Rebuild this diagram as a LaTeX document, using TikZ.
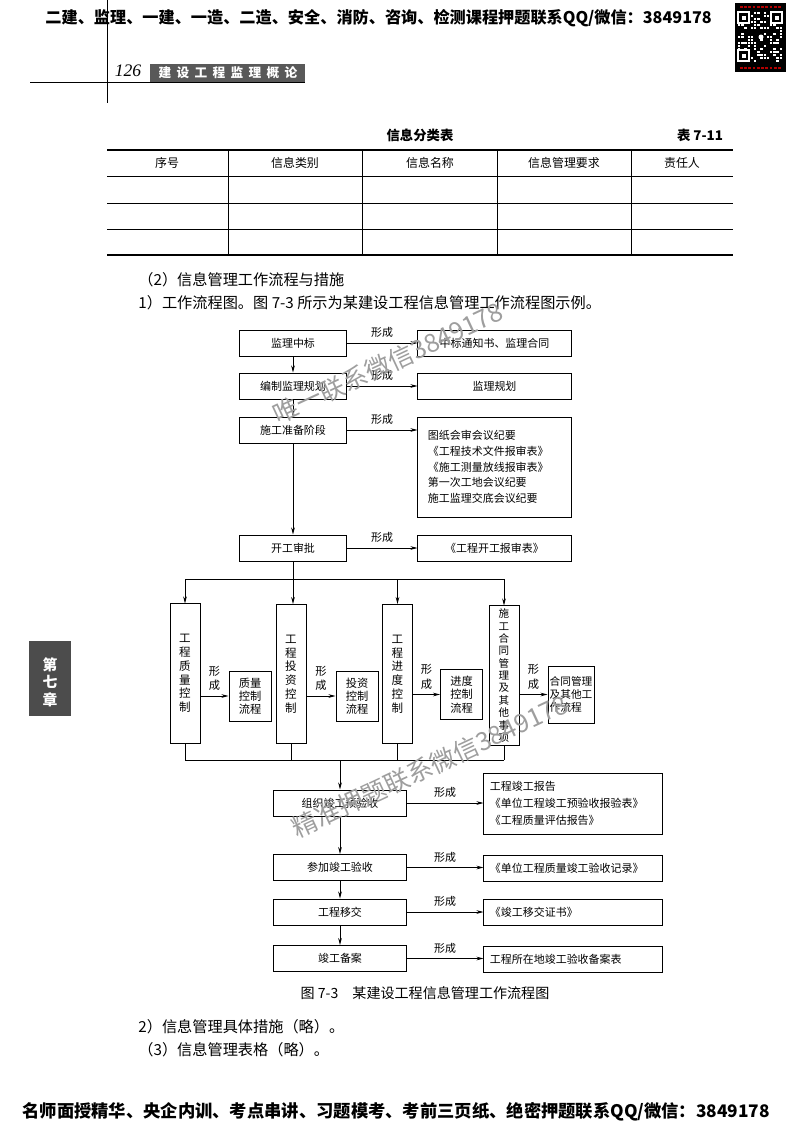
\documentclass[tikz,border=0pt]{standalone}
\usepackage{fontspec}
\setmainfont{Noto Sans CJK SC}
\newfontfamily\numfont{Liberation Serif}
\usetikzlibrary{arrows.meta}
\newcommand{\fsz}[2]{\fontsize{#1}{#2}\selectfont}

\begin{document}
\begin{tikzpicture}[x=0.025cm,y=-0.025cm,line width=0.6pt,
  every node/.style={font=\fsz{7.8pt}{10pt}},
  stepbox/.style={draw,line width=0.7pt,minimum height=0.65cm,inner sep=1pt},
  lbox/.style={stepbox,minimum width=2.65cm},
  rbox/.style={stepbox,minimum width=3.825cm},
  tall/.style={draw,line width=0.7pt,minimum width=0.75cm,minimum height=3.475cm,align=center,inner sep=0pt,font=\fsz{8.2pt}{9.8pt}},
  flow/.style={draw,line width=0.7pt,minimum width=1.05cm,minimum height=1.25cm,align=center,inner sep=1pt,font=\fsz{8pt}{9.4pt}},
  blbox/.style={stepbox,minimum width=3.3cm},
  brbox/.style={stepbox,text width=4.15cm,inner xsep=0.15cm,align=left},
  arr/.style={-{Stealth[length=5pt,width=2.6pt]}},
  body/.style={anchor=west,inner sep=0pt,font=\fsz{10.8pt}{13pt}},
  wm/.style={text=black!38,font=\fsz{18pt}{18pt},rotate=25}]
\useasboundingbox (0,0) rectangle (800,1131);

% page head
\node[anchor=west,inner sep=0pt,font=\bfseries\fsz{11.5pt}{12pt}] (ad) at (45,18) {二建、监理、一建、一造、二造、安全、消防、咨询、检测课程押题联系QQ/微信：3849178};
\fill[black] (735,3) rectangle (786,72);
\pgfmathsetseed{3849}
\foreach \i in {0,...,13}{\foreach \j in {0,...,16}{
  \pgfmathparse{rnd}
  \ifdim\pgfmathresult pt>0.55pt \fill[white] (738+3.2*\i,12+3*\j) rectangle ++(2.4,2.4);\fi}}
\foreach \qx/\qy in {738/12,771/12,738/50}{
  \fill[black] (\qx-1,\qy-1) rectangle ++(13,13);
  \draw[white,line width=1pt] (\qx,\qy) rectangle ++(11,11);
  \fill[white] (\qx+3.5,\qy+3.5) rectangle ++(4,4);}
\fill[white] (761,37) circle (2.5);
\draw[red!70!black,line width=1pt,dash pattern=on 2pt off 1pt] (740,7) -- (781,7) (740,68) -- (781,68);
\draw (107,0) -- (107,103);
\draw (30,82) -- (305,82);
\fill[black!65] (150,64) rectangle (305,82);
\foreach \c [count=\i from 0] in {建,设,工,程,监,理,概,论}
  \node[text=white,font=\bfseries\fsz{9pt}{9pt}] at (165+18*\i,73) {\c};
\node[font=\numfont\itshape\fsz{12.5pt}{12pt}] (pg) at (128,71) {126};

% table 7-11
\node[font=\bfseries\fsz{9.5pt}{10pt}] (tt) at (420,135) {信息分类表};
\node[font=\bfseries\fsz{9.5pt}{10pt}] (tn) at (700,135) {表 7-11};
\draw[line width=1.1pt] (107,150) -- (733,150);
\draw[line width=1.1pt] (107,255) -- (733,255);
\foreach \y in {176,203,229} \draw[line width=0.5pt] (107,\y) -- (733,\y);
\foreach \x in {228,362,497,631} \draw[line width=0.5pt] (\x,150) -- (\x,255);
\foreach \x/\t in {167/序号,295/信息类别,430/信息名称,564/信息管理要求,682/责任人}
  \node[font=\fsz{8.5pt}{9pt}] at (\x,163) {\t};

\node[body] (t1) at (138,280) {（2）信息管理工作流程与措施};
\node[body] (t2) at (138,303) {1）工作流程图。图 7-3 所示为某建设工程信息管理工作流程图示例。};

% flow chart, upper part
\node[lbox] (zb) at (293,343) {监理中标};
\node[lbox] (gh) at (293,386) {编制监理规划};
\node[lbox] (zbj) at (293,430) {施工准备阶段};
\node[lbox] (kg) at (293,548) {开工审批};
\node[rbox] (tz) at (494.5,343) {中标通知书、监理合同};
\node[rbox] (jg) at (494.5,386) {监理规划};
\node[rbox,text width=3.325cm,inner xsep=0.25cm,align=left,minimum height=2.5cm,font=\fsz{7.8pt}{11.2pt}] (jy) at (494.5,467)
  {图纸会审会议纪要\\《工程技术文件报审表》\\《施工测量放线报审表》\\第一次工地会议纪要\\施工监理交底会议纪要};
\node[rbox] (kb) at (494.5,548) {《工程开工报审表》};
\foreach \a/\b in {zb/tz,gh/jg,zbj/jy,kg/kb}
  \draw[arr] (\a.east) -- (\a.east -| \b.west) node[midway,above] {形成};
\foreach \a/\b in {zb/gh,gh/zbj,zbj/kg}
  \draw[arr] (\a.south) -- (\b.north);

% four control branches
\node[tall] (q1) at (185,673.5) {工\\程\\质\\量\\控\\制};
\node[tall] (q2) at (291,674) {工\\程\\投\\资\\控\\制};
\node[tall] (q3) at (397.5,674) {工\\程\\进\\度\\控\\制};
\node[tall,font=\fsz{7.5pt}{8.8pt}] (q4) at (504,675.5) {施\\工\\合\\同\\管\\理\\及\\其\\他\\事\\项};
\node[flow] (p1) at (250,696) {质量\\控制\\流程};
\node[flow] (p2) at (357,696) {投资\\控制\\流程};
\node[flow] (p3) at (461.5,694.5) {进度\\控制\\流程};
\node[flow,minimum width=1.15cm,minimum height=1.425cm,align=left,font=\fsz{7.6pt}{9.2pt}] (p4) at (571,694.5) {合同管理\\及其他工\\作流程};
\coordinate (br) at (293,579);
\draw[arr] (kg.south) -- (kg.south |- q2.north);
\draw (q1.north |- br) -- (q4.north |- br);
\foreach \q in {q1,q3,q4} \draw[arr] (\q.north |- br) -- (\q.north);
\foreach \q/\p in {q1/p1,q2/p2,q3/p3,q4/p4}
  \draw[arr] (\q.east |- \p.west) -- (\p.west) node[midway,above,align=center,font=\fsz{8pt}{10.5pt}] {形\\成};
\coordinate (mg) at (340,760);
\draw (q1.south) -- (q1.south |- mg) -- (q4.south |- mg);
\foreach \q in {q2,q3,q4} \draw (\q.south) -- (\q.south |- mg);

% completion part
\node[blbox] (ys) at (340,803) {组织竣工预验收};
\node[blbox] (js) at (340,867.5) {参加竣工验收};
\node[blbox] (yj) at (340,912) {工程移交};
\node[blbox] (ba) at (340,958.5) {竣工备案};
\node[brbox,minimum height=1.525cm,font=\fsz{7.8pt}{12pt}] (bg) at (573,803.5) {工程竣工报告\\《单位工程竣工预验收报验表》\\《工程质量评估报告》};
\node[brbox] (jl) at (573,868) {《单位工程质量竣工验收记录》};
\node[brbox] (zs) at (573,912.5) {《竣工移交证书》};
\node[brbox] (bb) at (573,959) {工程所在地竣工验收备案表};
\draw[arr] (mg) -- (ys.north);
\foreach \a/\b in {ys/bg,js/jl,yj/zs,ba/bb}
  \draw[arr] (\a.east) -- (\a.east -| \b.west) node[midway,above] {形成};
\foreach \a/\b in {ys/js,js/yj,yj/ba}
  \draw[arr] (\a.south) -- (\b.north);

\node[font=\fsz{10pt}{10pt}] (cap) at (425,993) {图 7-3\quad 某建设工程信息管理工作流程图};
\node[body] (t3) at (138,1027) {2）信息管理具体措施（略）。};
\node[body] (t4) at (138,1050) {（3）信息管理表格（略）。};

% chapter tab
\fill[black!70] (29,641) rectangle (71,716);
\node[text=white,font=\bfseries\fsz{10.5pt}{12.5pt},align=center] (ch) at (50,682) {第\\七\\章};

% foot line
\node[anchor=west,inner sep=0pt,font=\bfseries\fsz{12.3pt}{13pt}] (ft) at (22,1112) {名师面授精华、央企内训、考点串讲、习题模考、考前三页纸、绝密押题联系QQ/微信：3849178};

% watermarks
\node[wm] (w1) at (388,363) {唯一联系微信3849178};
\node[wm] (w2) at (430,766) {精准押题联系微信3849178};
\end{tikzpicture}
\end{document}
